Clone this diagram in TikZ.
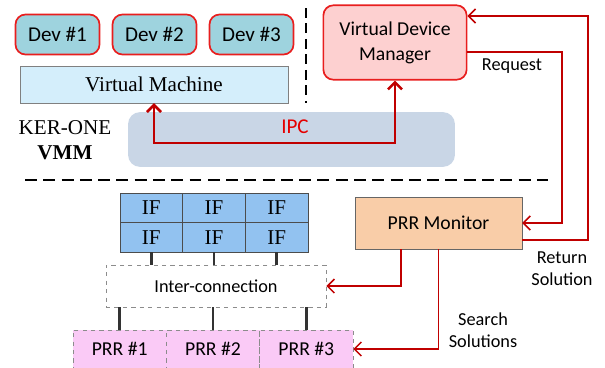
\documentclass[tikz,border=0pt]{standalone}
\usepackage{fontspec}
\setmainfont{Liberation Serif}
\setsansfont{Carlito}
\usetikzlibrary{arrows.meta}
\definecolor{devteal}{RGB}{158,211,222}
\definecolor{devred}{RGB}{232,30,30}
\definecolor{vmblue}{RGB}{212,238,251}
\definecolor{ipcgray}{RGB}{201,214,230}
\definecolor{vdmpink}{RGB}{253,208,208}
\definecolor{monpeach}{RGB}{249,205,168}
\definecolor{ifblue}{RGB}{146,194,240}
\definecolor{prrpink}{RGB}{250,202,246}
\definecolor{linkred}{RGB}{192,0,0}

\begin{document}
\begin{tikzpicture}[
    x=0.025cm, y=-0.025cm,
    sansbig/.style={font=\sffamily\fontsize{15}{18}\selectfont},
    sansmid/.style={font=\sffamily\fontsize{14}{17.7}\selectfont},
    sanssmall/.style={font=\sffamily\fontsize{13}{15.6}\selectfont},
    serifbig/.style={font=\rmfamily\fontsize{15}{17.7}\selectfont},
    devbox/.style={rectangle, draw=devred, line width=1.2pt, fill=devteal, minimum width=2.1cm, minimum height=1cm, rounded corners=2.5mm, sansbig},
    vmbox/.style={rectangle, draw=gray, fill=vmblue, minimum width=6.7cm, minimum height=0.92cm, serifbig},
    vdmbox/.style={rectangle, draw=devred, line width=1.2pt, fill=vdmpink, minimum width=3.58cm, minimum height=1.86cm, rounded corners=2.5mm, align=center, sansmid},
    monbox/.style={rectangle, draw=black!60, fill=monpeach, minimum width=4.17cm, minimum height=1.29cm, sansmid},
    ifcell/.style={rectangle, draw=black!70, fill=ifblue, minimum width=1.567cm, minimum height=0.737cm, serifbig},
    prrcell/.style={rectangle, draw=black!45, dashed, fill=prrpink, minimum width=2.333cm, minimum height=0.95cm, sansmid},
    redarrow/.style={-{Straight Barb[length=5pt,width=10pt]}, draw=linkred, line width=1.1pt},
    link/.style={draw=black!80, line width=2pt},
    divider/.style={draw=black, line width=1.6pt, dash pattern=on 7pt off 4pt}
]
    % Guest side
    \useasboundingbox (0,0) rectangle (605,368);
    \node[devbox] (dev1) at (57.5,34.5) {Dev \#1};
    \node[devbox] (dev2) at (154.5,34.5) {Dev \#2};
    \node[devbox] (dev3) at (251.5,34.5) {Dev \#3};
    \node[vmbox] (vm) at (154,84.5) {Virtual Machine};
    \draw[divider] (306,8) -- (306,103);

    % VMM layer
    \node[rectangle, fill=ipcgray, rounded corners=3mm, minimum width=8.17cm, minimum height=1.37cm] (ipc) at (291.5,139.5) {};
    \node[sansbig, text=red!90!black] (ipclabel) at (295,127) {IPC};
    \node[serifbig, align=center] (kerone) at (65,140.5) {KER-ONE\\\textbf{VMM}};
    \node[vdmbox] (vdm) at (395,42.5) {Virtual Device\\Manager};
    \draw[redarrow, {Straight Barb[length=5pt,width=10pt]}-{Straight Barb[length=5pt,width=10pt]}, line width=1.8pt] (vm.south) -- ++(0,40) -| (vdm.south);

    \draw[divider, line width=2pt, dash pattern=on 8.5pt off 4.5pt] (25,180) -- (548,180);

    % Hardware side
    \node[monbox] (mon) at (438.5,223) {PRR Monitor};
    \node[ifcell] (ifa1) at (151.3,207.75) {IF};
    \node[ifcell] (ifa2) at (214,207.75) {IF};
    \node[ifcell] (ifa3) at (276.7,207.75) {IF};
    \node[ifcell] (ifb1) at (151.3,237.25) {IF};
    \node[ifcell] (ifb2) at (214,237.25) {IF};
    \node[ifcell] (ifb3) at (276.7,237.25) {IF};
    \node[rectangle, draw=black!45, dashed, fill=white, minimum width=5.5cm, minimum height=1.05cm, sanssmall] (ic) at (216,286) {Inter-connection};
    \node[prrcell] (prr1) at (119.7,349) {PRR \#1};
    \node[prrcell] (prr2) at (213,349) {PRR \#2};
    \node[prrcell] (prr3) at (306.3,349) {PRR \#3};

    % Links
    \foreach \i in {1,2,3} {
        \draw[link] (ifb\i.south) -- (ifb\i.south |- ic.north);
        \draw[link] (prr\i.north) -- (prr\i.north |- ic.south);
    }

    % Request / return
    \coordinate (reqtop) at (562,52);
    \coordinate (rettop) at (588,16);
    \coordinate (retbot) at (588,240);
    \coordinate (icdrop) at (401,249);
    \draw[redarrow] (vdm.east |- reqtop) -- (reqtop) |- (mon.east);
    \draw[redarrow] (mon.east |- retbot) -- (retbot) -- (rettop) -- (vdm.east |- rettop);
    \draw[redarrow] (icdrop) |- (ic.east);
    \draw[redarrow] (mon.south) |- (prr3.east);
    \node[sanssmall] (reqlabel) at (512,66) {Request};
    \node[sanssmall, align=center] (retlabel) at (562,269) {Return\\Solution};
    \node[sanssmall, align=center] (searchlabel) at (483,330) {Search\\Solutions};
\end{tikzpicture}
\end{document}
